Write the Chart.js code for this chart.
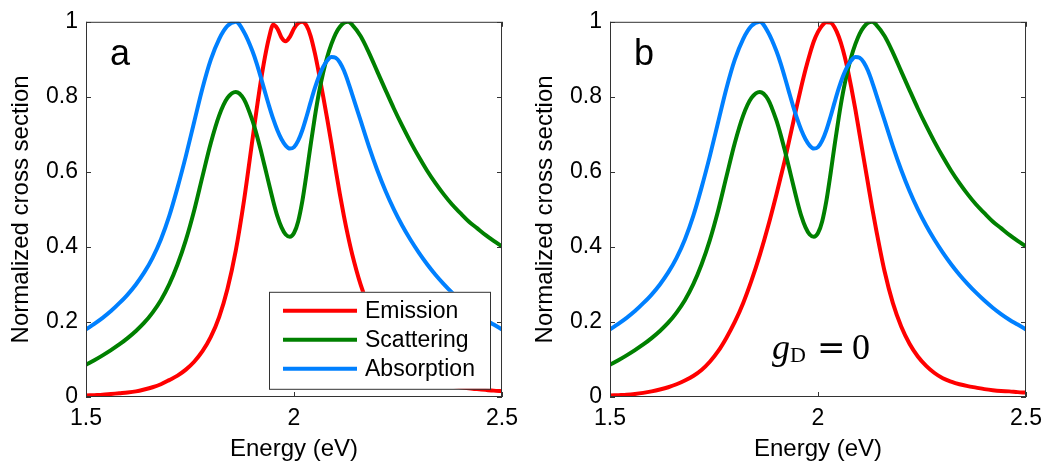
<!DOCTYPE html>
<html lang="en">
<head>
<meta charset="UTF-8" />
<title>Normalized cross section</title>
<script src="https://cdn.jsdelivr.net/npm/chart.js"></script>
<style>
  body { margin: 0; background: #fff; }
  .panel { position: absolute; top: 0; width: 526px; height: 470px; }
  #panelA { left: 0; }
  #panelB { left: 524px; }
</style>
</head>
<body>
<div class="panel" id="panelA"><canvas id="chartA" width="526" height="470"></canvas></div>
<div class="panel" id="panelB"><canvas id="chartB" width="526" height="470"></canvas></div>

<script>
// energy grid (eV), finer near the resonances
const energy = [
  1.50, 1.52, 1.54, 1.56, 1.58, 1.60, 1.62, 1.64, 1.66, 1.68,
  1.70, 1.72, 1.74, 1.76, 1.78, 1.80, 1.82, 1.84, 1.86, 1.88,
  1.90, 1.91, 1.92, 1.93, 1.94, 1.95, 1.96, 1.97, 1.98, 1.99,
  2.00, 2.01, 2.02, 2.03, 2.04, 2.05, 2.06, 2.07, 2.08, 2.09,
  2.10, 2.11, 2.12, 2.13, 2.14, 2.16, 2.18, 2.20, 2.22, 2.24,
  2.26, 2.28, 2.30, 2.32, 2.34, 2.36, 2.38, 2.40, 2.42, 2.44,
  2.46, 2.48, 2.50
];

// emission with the dark-state coupling (panel a)
const emissionA = [
  0.004, 0.005, 0.006, 0.008, 0.010, 0.012, 0.015, 0.020, 0.026, 0.034,
  0.045, 0.057, 0.073, 0.094, 0.122, 0.160, 0.213, 0.288, 0.390, 0.525,
  0.685, 0.765, 0.840, 0.905, 0.958, 0.992, 0.982, 0.958, 0.948, 0.960,
  0.982, 0.996, 1.000, 0.990, 0.962, 0.917, 0.862, 0.802, 0.740, 0.675,
  0.607, 0.542, 0.482, 0.428, 0.380, 0.300, 0.238, 0.188, 0.148, 0.117,
  0.093, 0.074, 0.060, 0.049, 0.041, 0.035, 0.030, 0.026, 0.023, 0.021,
  0.019, 0.017, 0.016
];

// emission for gD = 0 (panel b)
const emissionB = [
  0.004, 0.005, 0.006, 0.008, 0.011, 0.015, 0.020, 0.026, 0.034, 0.044,
  0.056, 0.072, 0.094, 0.122, 0.158, 0.200, 0.250, 0.310, 0.378, 0.455,
  0.540, 0.585, 0.630, 0.680, 0.730, 0.780, 0.828, 0.873, 0.913, 0.948,
  0.973, 0.990, 0.999, 0.998, 0.985, 0.960, 0.925, 0.880, 0.825, 0.765,
  0.700, 0.635, 0.570, 0.505, 0.445, 0.335, 0.250, 0.188, 0.142, 0.108,
  0.083, 0.064, 0.050, 0.041, 0.034, 0.029, 0.025, 0.021, 0.018, 0.016,
  0.015, 0.013, 0.012
];

const scattering = [
  0.086, 0.098, 0.111, 0.125, 0.140, 0.157, 0.176, 0.198, 0.225, 0.258,
  0.300, 0.353, 0.418, 0.497, 0.588, 0.677, 0.750, 0.797, 0.813, 0.793,
  0.737, 0.700, 0.658, 0.613, 0.567, 0.522, 0.482, 0.452, 0.433, 0.427,
  0.437, 0.468, 0.522, 0.594, 0.672, 0.746, 0.811, 0.864, 0.907, 0.941,
  0.968, 0.986, 0.997, 1.000, 0.992, 0.962, 0.918, 0.868, 0.818, 0.769,
  0.723, 0.680, 0.640, 0.603, 0.570, 0.540, 0.513, 0.490, 0.468, 0.450,
  0.432, 0.416, 0.401
];

const absorption = [
  0.180, 0.195, 0.211, 0.229, 0.250, 0.273, 0.300, 0.332, 0.371, 0.420,
  0.482, 0.558, 0.642, 0.733, 0.823, 0.899, 0.954, 0.989, 1.000, 0.972,
  0.922, 0.890, 0.853, 0.814, 0.776, 0.741, 0.711, 0.687, 0.670, 0.662,
  0.666, 0.683, 0.711, 0.747, 0.786, 0.823, 0.855, 0.880, 0.897, 0.906,
  0.904, 0.892, 0.870, 0.840, 0.806, 0.737, 0.668, 0.605, 0.549, 0.500,
  0.457, 0.419, 0.385, 0.354, 0.326, 0.301, 0.278, 0.257, 0.238, 0.221,
  0.206, 0.193, 0.180
];

const xTicks = [1.5, 2, 2.5];
const yTicks = [0, 0.2, 0.4, 0.6, 0.8, 1];

const RED = '#ff0000';
const GREEN = '#008000';
const BLUE = '#0080ff';
const FRAME = '#333333';
const sans = 'Liberation Sans, Arial, sans-serif';

function toPoints(values) {
  return energy.map((x, i) => ({ x: x, y: values[i] }));
}

function line(label, values, color, order) {
  return {
    label: label,
    data: toPoints(values),
    borderColor: color,
    backgroundColor: color,
    borderWidth: 4,
    pointRadius: 0,
    fill: false,
    cubicInterpolationMode: 'monotone',
    order: order
  };
}

// box around the plot area with inward tick marks on all four sides
const framePlugin = {
  id: 'frame',
  afterDatasetsDraw(chart) {
    const { ctx, chartArea: a, scales } = chart;
    ctx.save();
    ctx.strokeStyle = FRAME;
    ctx.lineWidth = 1;
    ctx.strokeRect(a.left + 0.5, a.top + 0.5, a.right - a.left - 1, a.bottom - a.top - 1);
    ctx.beginPath();
    xTicks.forEach(v => {
      const px = Math.round(scales.x.getPixelForValue(v)) + 0.5;
      ctx.moveTo(px, a.bottom); ctx.lineTo(px, a.bottom - 5);
      ctx.moveTo(px, a.top); ctx.lineTo(px, a.top + 5);
    });
    yTicks.forEach(v => {
      const py = Math.round(scales.y.getPixelForValue(v)) + 0.5;
      ctx.moveTo(a.left, py); ctx.lineTo(a.left + 5, py);
      ctx.moveTo(a.right, py); ctx.lineTo(a.right - 5, py);
    });
    ctx.stroke();
    ctx.restore();
  }
};

// panel letter, legend and annotation
const notesPlugin = {
  id: 'notes',
  afterDraw(chart, args, opts) {
    const { ctx, chartArea: a } = chart;
    ctx.save();
    ctx.fillStyle = '#000';
    ctx.font = '36px ' + sans;
    ctx.textBaseline = 'alphabetic';
    ctx.fillText(opts.letter, a.left + 24, a.top + 43);

    if (opts.legend) {
      const bx = a.left + 183, by = a.top + 270, bw = 221, bh = 97;
      ctx.fillStyle = '#fff';
      ctx.fillRect(bx, by, bw, bh);
      ctx.strokeStyle = FRAME;
      ctx.lineWidth = 1;
      ctx.strokeRect(bx + 0.5, by + 0.5, bw, bh);
      ctx.font = '23px ' + sans;
      ctx.textBaseline = 'middle';
      chart.data.datasets.forEach((ds, i) => {
        const y = by + 19 + i * 29;
        ctx.strokeStyle = ds.borderColor;
        ctx.lineWidth = 4;
        ctx.beginPath();
        ctx.moveTo(bx + 14, y);
        ctx.lineTo(bx + 88, y);
        ctx.stroke();
        ctx.fillStyle = '#000';
        ctx.fillText(ds.label, bx + 96, y + 1);
      });
    }

    if (opts.coupling) {
      const x0 = a.left + 162, base = a.top + 337;
      ctx.fillStyle = '#000';
      ctx.textBaseline = 'alphabetic';
      ctx.font = 'italic 36px Liberation Serif, serif';
      ctx.fillText('g', x0, base);
      ctx.font = '22px Liberation Serif, serif';
      ctx.fillText('D', x0 + 18, base + 3);
      ctx.font = '34px DejaVu Serif, serif';
      ctx.fillText('=', x0 + 45, base);
      ctx.font = '36px Liberation Serif, serif';
      ctx.fillText('0', x0 + 80, base);
    }
    ctx.restore();
  }
};

const plainNumber = v => String(v);

function makeChart(id, emission, notes) {
  return new Chart(document.getElementById(id), {
    type: 'line',
    data: {
      datasets: [
        line('Emission', emission, RED, 3),
        line('Scattering', scattering, GREEN, 2),
        line('Absorption', absorption, BLUE, 1)
      ]
    },
    options: {
      responsive: false,
      animation: false,
      layout: { padding: { top: 13, right: 20, left: 0, bottom: 0 } },
      plugins: {
        legend: { display: false },
        tooltip: { enabled: false },
        notes: notes
      },
      scales: {
        x: {
          type: 'linear',
          min: 1.5,
          max: 2.5,
          afterBuildTicks: s => { s.ticks = xTicks.map(v => ({ value: v })); },
          afterFit: s => { s.height = 73; },
          grid: { display: false, drawTicks: false },
          border: { display: false },
          ticks: { color: '#000', font: { family: sans, size: 23 }, padding: 8, maxRotation: 0, autoSkip: false, callback: plainNumber },
          title: { display: true, text: 'Energy (eV)', color: '#000', font: { family: sans, size: 24 }, padding: { top: 0, bottom: 6 } }
        },
        y: {
          min: 0,
          max: 1,
          afterBuildTicks: s => { s.ticks = yTicks.map(v => ({ value: v })); },
          afterFit: s => { s.width = 86; },
          grid: { display: false, drawTicks: false },
          border: { display: false },
          ticks: { color: '#000', font: { family: sans, size: 23 }, padding: 8, callback: plainNumber },
          title: { display: true, text: 'Normalized cross section', color: '#000', font: { family: sans, size: 24 }, padding: { top: 7, bottom: 0 } }
        }
      }
    },
    plugins: [framePlugin, notesPlugin]
  });
}

makeChart('chartA', emissionA, { letter: 'a', legend: true, coupling: false });
makeChart('chartB', emissionB, { letter: 'b', legend: false, coupling: true });
</script>
</body>
</html>
